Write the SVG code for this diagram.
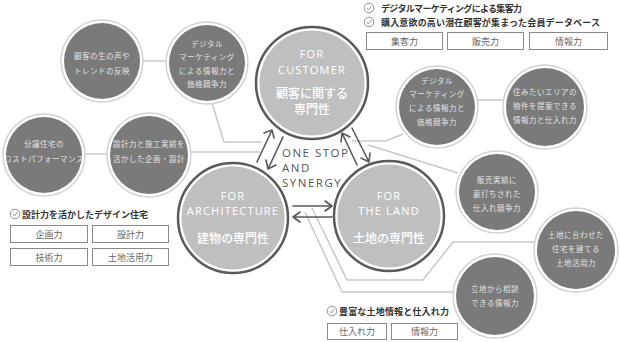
<svg xmlns="http://www.w3.org/2000/svg" width="620" height="342" viewBox="0 0 620 342">
<defs>
<style>
.bg{fill:#ffffff}
.conn{fill:none;stroke:#c9c9c9;stroke-width:1.5}
.arr{fill:none;stroke:#5a5a5a;stroke-width:1.6;stroke-linecap:round;stroke-linejoin:round}
.mring{fill:#ffffff;stroke:#5a5a5a;stroke-width:2.5}
.mfill{fill:#bfbfbf}
.bring{fill:#ffffff;stroke:#d2d2d2;stroke-width:1.5}
.bfill{fill:#7a7a7a}
.en{font-family:"Open Sans","DejaVu Sans",sans-serif;fill:#ffffff;font-size:11px;letter-spacing:1.2px;text-anchor:middle}
.jp{font-family:"Noto Sans CJK JP",sans-serif;fill:#ffffff;font-size:12px;font-weight:500;text-anchor:middle}
.bt{font-family:"Noto Sans CJK JP",sans-serif;fill:#e2e2e2;font-size:7.5px;letter-spacing:0.5px;text-anchor:middle}
.one{font-family:"Open Sans","DejaVu Sans",sans-serif;fill:#555555;font-size:11.5px;letter-spacing:1.5px}
.chk{font-family:"Noto Sans CJK JP",sans-serif;fill:#333333;font-size:9px;font-weight:700}
.box{fill:#ffffff;stroke:#8a8a8a;stroke-width:1}
.boxt{font-family:"Noto Sans CJK JP",sans-serif;fill:#666666;font-size:9px;text-anchor:middle}
.ico{fill:none;stroke:#888888;stroke-width:0.9}
</style>
<g id="check">
<circle cx="0" cy="0" r="4.8" class="ico"/>
<path d="M-2.3,0.1 L-0.6,1.9 L2.5,-1.8" class="ico"/>
</g>
</defs>
<rect class="bg" width="620" height="342"/>

<g id="connectors">
<path class="conn" d="M140,61 H170"/>
<path class="conn" d="M212,103 L224,142 H262"/>
<path class="conn" d="M84,154 H108"/>
<path class="conn" d="M190,152 H260"/>
<path class="conn" d="M477,100 H504"/>
<path class="conn" d="M403,134 L386,141 H352"/>
<path class="conn" d="M368,145 L458,173"/>
<path class="conn" d="M312,208 L347,280 H423 L453,242 H535"/>
<path class="conn" d="M305,212 L342,292 H455"/>
</g>

<g id="arrows">
<path class="arr" d="M257,162 L272,130 M264,133 L272,130 L274,138"/>
<path class="arr" d="M283,137 L268,169 M266,160 L268,169 L276,165"/>
<path class="arr" d="M357,165 L342,133 M341,142 L342,133 L350,137"/>
<path class="arr" d="M352,128 L369,162 M361,158 L369,162 L370,153"/>
<path class="arr" d="M293,206 H332 M325,201 L332,206 L325,211"/>
<path class="arr" d="M332,217 H293 M300,212 L293,217 L300,222"/>
</g>

<g id="onestop">
<text class="one" x="282" y="157">ONE STOP</text>
<text class="one" x="282" y="172">AND</text>
<text class="one" x="282" y="187">SYNERGY</text>
</g>

<g id="customer">
<circle class="mring" cx="312" cy="83" r="56"/>
<circle class="mfill" cx="312" cy="83" r="52.5"/>
<text class="en" x="312" y="58">FOR</text>
<text class="en" x="312" y="74">CUSTOMER</text>
<text class="jp" x="312" y="98">顧客に関する</text>
<text class="jp" x="312" y="114">専門性</text>
</g>

<g id="architecture">
<circle class="mring" cx="233" cy="218" r="55"/>
<circle class="mfill" cx="233" cy="218" r="51.5"/>
<text class="en" x="233" y="200">FOR</text>
<text class="en" x="233" y="215">ARCHITECTURE</text>
<text class="jp" x="233" y="243">建物の専門性</text>
</g>

<g id="land">
<circle class="mring" cx="389" cy="216" r="55"/>
<circle class="mfill" cx="389" cy="216" r="51.5"/>
<text class="en" x="389" y="200">FOR</text>
<text class="en" x="389" y="215">THE LAND</text>
<text class="jp" x="389" y="243">土地の専門性</text>
</g>

<g id="b-voice">
<circle class="bring" cx="102" cy="61" r="41"/>
<circle class="bfill" cx="102" cy="61" r="38"/>
<text class="bt" x="102" y="59">顧客の生の声や</text>
<text class="bt" x="102" y="74">トレンドの反映</text>
</g>

<g id="b-digital-left">
<circle class="bring" cx="207" cy="63" r="41"/>
<circle class="bfill" cx="207" cy="63" r="38"/>
<text class="bt" x="207" y="47">デジタル</text>
<text class="bt" x="207" y="60">マーケティング</text>
<text class="bt" x="207" y="74">による情報力と</text>
<text class="bt" x="207" y="87">価格競争力</text>
</g>

<g id="b-cost">
<circle class="bring" cx="44" cy="155" r="41"/>
<circle class="bfill" cx="44" cy="155" r="38"/>
<text class="bt" x="44" y="147">分譲住宅の</text>
<text class="bt" x="44" y="162">コストパフォーマンス</text>
</g>

<g id="b-design">
<circle class="bring" cx="149" cy="155" r="42"/>
<circle class="bfill" cx="149" cy="155" r="39"/>
<text class="bt" x="149" y="147">設計力と施工実績を</text>
<text class="bt" x="149" y="162">活かした企画・設計</text>
</g>

<g id="b-digital-right">
<circle class="bring" cx="437" cy="107" r="41"/>
<circle class="bfill" cx="437" cy="107" r="38"/>
<text class="bt" x="437" y="84">デジタル</text>
<text class="bt" x="437" y="97">マーケティング</text>
<text class="bt" x="437" y="111">による情報力と</text>
<text class="bt" x="437" y="125">価格競争力</text>
</g>

<g id="b-area">
<circle class="bring" cx="545" cy="107" r="42"/>
<circle class="bfill" cx="545" cy="107" r="39"/>
<text class="bt" x="545" y="95">住みたいエリアの</text>
<text class="bt" x="545" y="109">物件を提案できる</text>
<text class="bt" x="545" y="123">情報力と仕入れ力</text>
</g>

<g id="b-sales">
<circle class="bring" cx="497" cy="192" r="41"/>
<circle class="bfill" cx="497" cy="192" r="38"/>
<text class="bt" x="497" y="183">販売実績に</text>
<text class="bt" x="497" y="197">裏打ちされた</text>
<text class="bt" x="497" y="211">仕入れ競争力</text>
</g>

<g id="b-landuse">
<circle class="bring" cx="576" cy="250" r="42"/>
<circle class="bfill" cx="576" cy="250" r="39"/>
<text class="bt" x="576" y="238">土地に合わせた</text>
<text class="bt" x="576" y="252">住宅を建てる</text>
<text class="bt" x="576" y="266">土地活用力</text>
</g>

<g id="b-location">
<circle class="bring" cx="495" cy="296" r="42"/>
<circle class="bfill" cx="495" cy="296" r="39"/>
<text class="bt" x="495" y="292">立地から相談</text>
<text class="bt" x="495" y="306">できる情報力</text>
</g>

<g id="list-customer">
<use href="#check" x="369" y="8"/>
<text class="chk" x="381" y="12" textLength="141" lengthAdjust="spacing">デジタルマーケティングによる集客力</text>
<use href="#check" x="369" y="22"/>
<text class="chk" x="381" y="26" textLength="219" lengthAdjust="spacing">購入意欲の高い潜在顧客が集まった会員データベース</text>
<rect class="box" x="366.5" y="32.5" width="76" height="17"/>
<text class="boxt" x="404.5" y="44.5">集客力</text>
<rect class="box" x="447.5" y="32.5" width="76" height="17"/>
<text class="boxt" x="485.5" y="44.5">販売力</text>
<rect class="box" x="529.5" y="32.5" width="78" height="17"/>
<text class="boxt" x="568.5" y="44.5">情報力</text>
</g>

<g id="list-architecture">
<use href="#check" x="15" y="214"/>
<text class="chk" x="22" y="218" textLength="126" lengthAdjust="spacing">設計力を活かしたデザイン住宅</text>
<rect class="box" x="10.5" y="225.5" width="77" height="17"/>
<text class="boxt" x="49" y="237.5">企画力</text>
<rect class="box" x="92.5" y="225.5" width="76" height="17"/>
<text class="boxt" x="130.5" y="237.5">設計力</text>
<rect class="box" x="10.5" y="248.5" width="77" height="17"/>
<text class="boxt" x="49" y="260.5">技術力</text>
<rect class="box" x="92.5" y="248.5" width="76" height="17"/>
<text class="boxt" x="130.5" y="260.5">土地活用力</text>
</g>

<g id="list-land">
<use href="#check" x="332" y="311"/>
<text class="chk" x="339" y="315" textLength="110" lengthAdjust="spacing">豊富な土地情報と仕入れ力</text>
<rect class="box" x="327.5" y="323.5" width="59" height="16"/>
<text class="boxt" x="357" y="335">仕入れ力</text>
<rect class="box" x="391.5" y="323.5" width="66" height="16"/>
<text class="boxt" x="424.5" y="335">情報力</text>
</g>
</svg>
